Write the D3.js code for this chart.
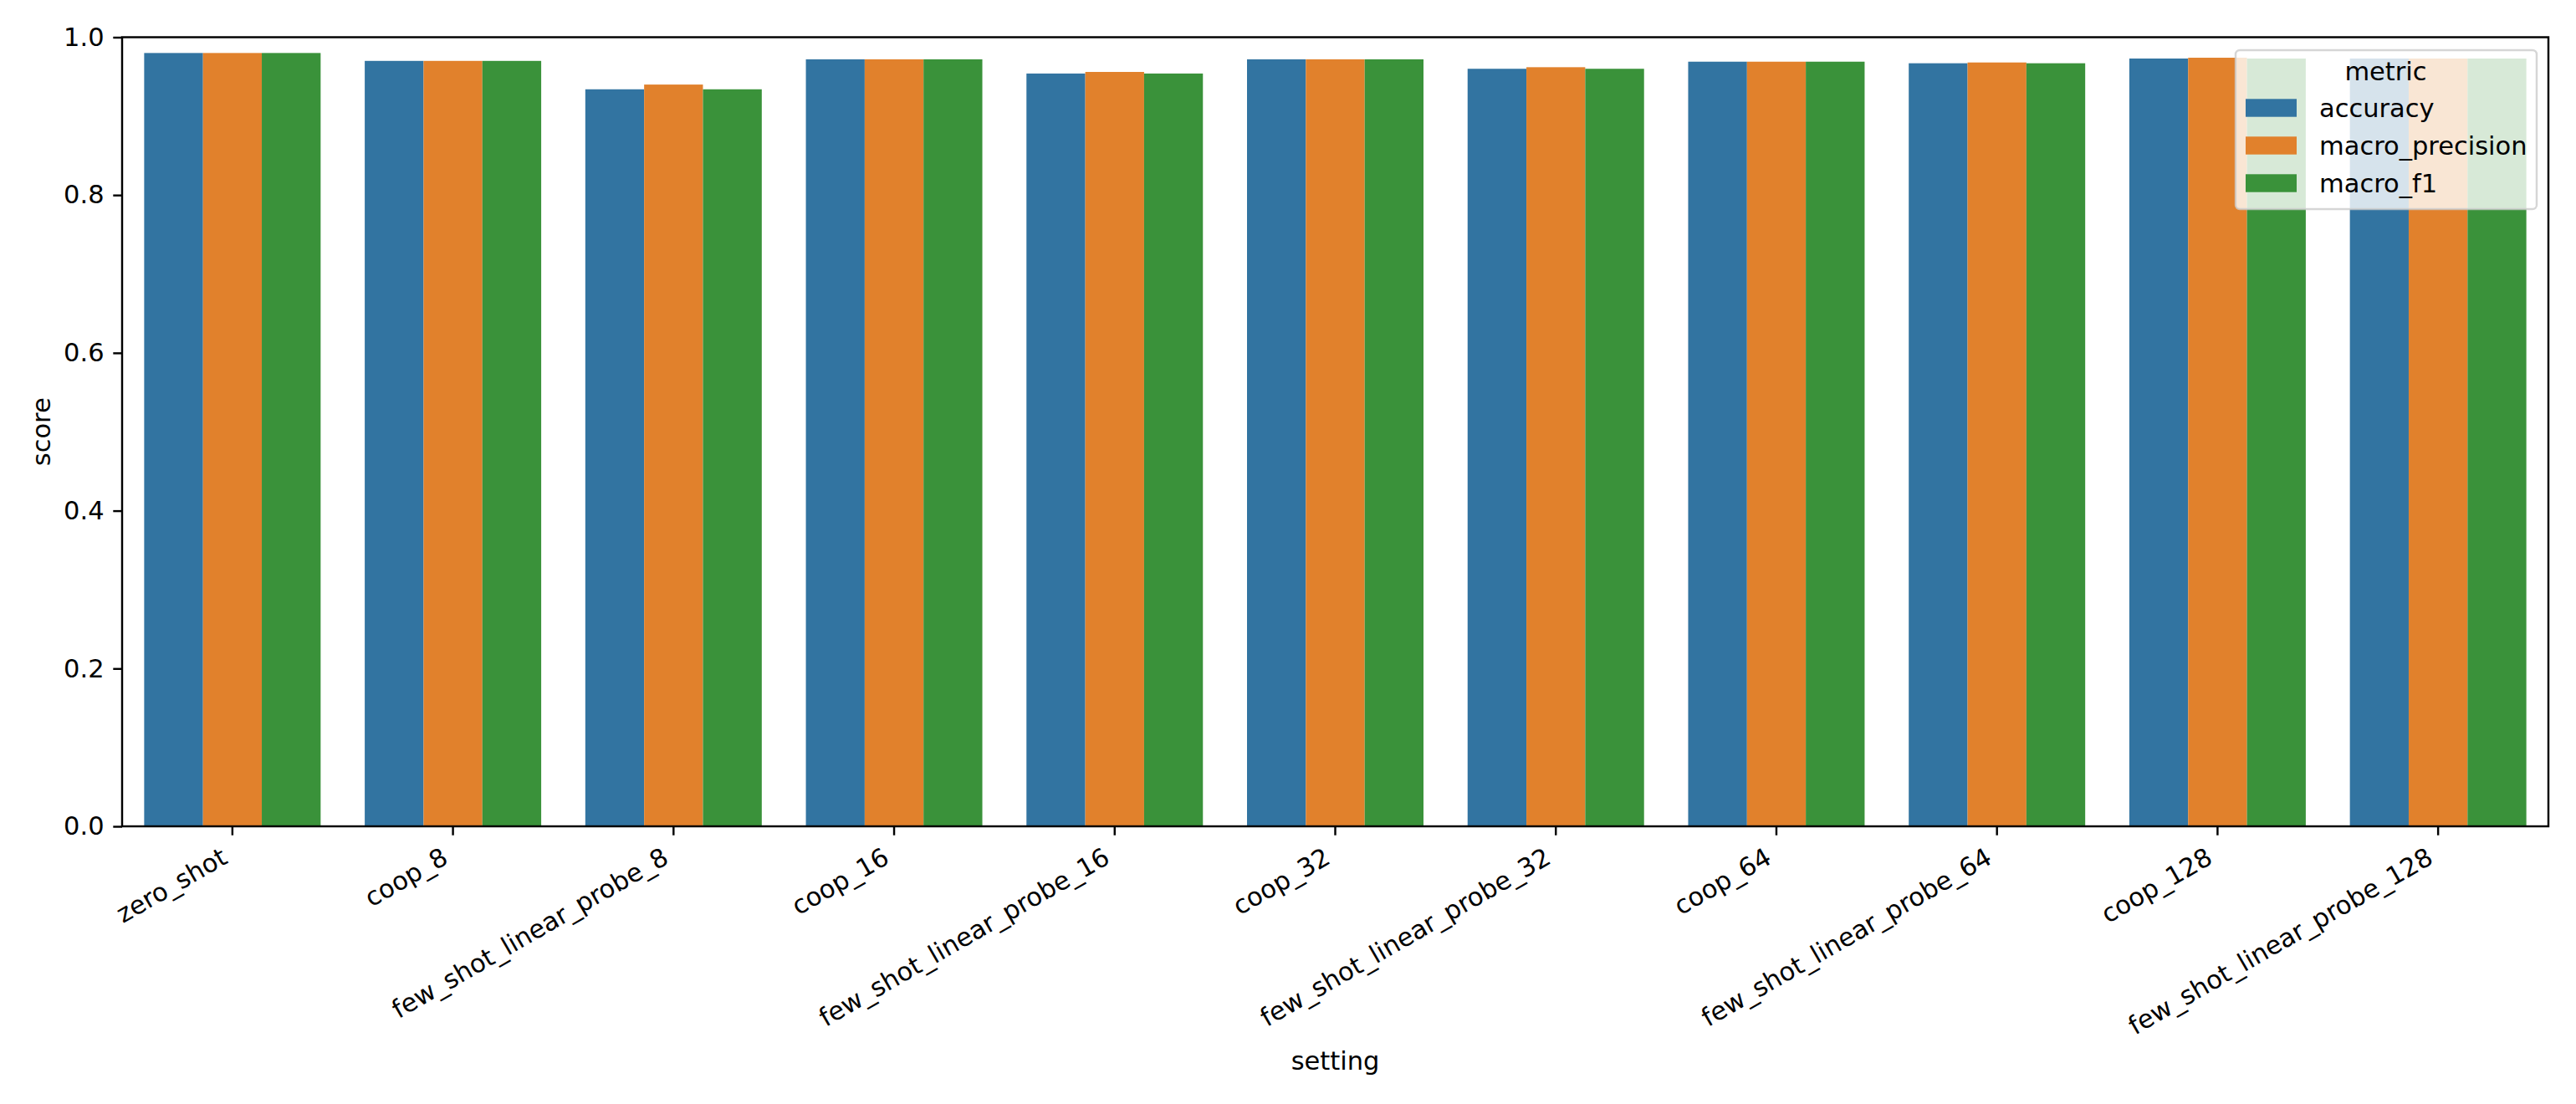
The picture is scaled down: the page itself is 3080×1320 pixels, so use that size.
<!DOCTYPE html>
<html>
<head>
<meta charset="utf-8">
<script src="https://cdn.jsdelivr.net/npm/d3@7"></script>
<style>
html, body { margin: 0; padding: 0; background: #fff; }
svg { display: block; }
text { font-family: "DejaVu Sans", sans-serif; }
</style>
</head>
<body>
<script>
const categories = ["zero_shot","coop_8","few_shot_linear_probe_8","coop_16","few_shot_linear_probe_16","coop_32","few_shot_linear_probe_32","coop_64","few_shot_linear_probe_64","coop_128","few_shot_linear_probe_128"];
const metrics = ["accuracy","macro_precision","macro_f1"];
const accuracy        = [0.980,0.970,0.934,0.972,0.954,0.972,0.960,0.969,0.967,0.973,0.973];
const macro_precision = [0.980,0.970,0.940,0.972,0.956,0.972,0.962,0.969,0.968,0.974,0.973];
const macro_f1        = [0.980,0.970,0.934,0.972,0.954,0.972,0.960,0.969,0.967,0.973,0.973];
const yTicks = [0.0,0.2,0.4,0.6,0.8,1.0];
const colors = ["#3274a1","#e1812c","#3a923a"];

const seriesValues = {accuracy, macro_precision, macro_f1};
const rows = [];
categories.forEach((c,i) => metrics.forEach(m => rows.push({cat:c, metric:m, value:seriesValues[m][i]})));

const W = 3080, H = 1320;
const L = 146, R = 3047, T = 44.5, B = 988;
const FS = 30.5, TICK = 10.7, PAD = 10.7, LW = 2.44;

const svg = d3.select("body").append("svg").attr("width", W).attr("height", H);
svg.append("rect").attr("width", W).attr("height", H).attr("fill", "#fff");

const x = d3.scaleBand().domain(categories).range([L, R]).paddingInner(0).paddingOuter(0);
const bw = x.bandwidth();
const xm = d3.scaleBand().domain(metrics).range([0.1*bw, 0.9*bw]).padding(0);
const y = d3.scaleLinear().domain([0, 1]).range([B, T]);
const color = d3.scaleOrdinal().domain(metrics).range(colors);

// bars
svg.append("g").selectAll("rect").data(rows).join("rect")
  .attr("x", d => x(d.cat) + xm(d.metric))
  .attr("width", xm.bandwidth())
  .attr("y", d => y(d.value))
  .attr("height", d => y(0) - y(d.value))
  .attr("fill", d => color(d.metric));

// y axis
const yAxis = svg.append("g").attr("transform", `translate(${L},0)`)
  .call(d3.axisLeft(y).tickValues(yTicks).tickFormat(d3.format(".1f")).tickSize(TICK).tickPadding(PAD));
yAxis.select(".domain").remove();
yAxis.selectAll(".tick line").attr("stroke", "#000").attr("stroke-width", LW);
yAxis.selectAll(".tick text").attr("font-size", FS).attr("font-family", "DejaVu Sans").attr("fill", "#000");

// x axis
const xAxis = svg.append("g").attr("transform", `translate(0,${B})`)
  .call(d3.axisBottom(x).tickSize(TICK).tickPadding(0));
xAxis.select(".domain").remove();
xAxis.selectAll(".tick line").attr("stroke", "#000").attr("stroke-width", LW);
xAxis.selectAll(".tick text")
  .attr("font-size", FS).attr("font-family", "DejaVu Sans").attr("fill", "#000")
  .attr("text-anchor", "end")
  .attr("dy", null)
  .attr("y", null)
  .attr("transform", `translate(-4,43) rotate(-30)`);

// spines
svg.append("rect").attr("x", L).attr("y", T).attr("width", R-L).attr("height", B-T)
  .attr("fill", "none").attr("stroke", "#000").attr("stroke-width", LW);

// axis labels
svg.append("text").attr("x", (L+R)/2).attr("y", 1268).attr("dy", "0.35em")
  .attr("text-anchor", "middle").attr("font-size", FS).text("setting");
svg.append("text").attr("transform", `translate(49,${(T+B)/2}) rotate(-90)`).attr("dy", "0.35em")
  .attr("text-anchor", "middle").attr("font-size", FS).text("score");

// legend
const lg = svg.append("g");
lg.append("rect").attr("x", 2673).attr("y", 60).attr("width", 360).attr("height", 190)
  .attr("rx", 5).attr("ry", 5)
  .attr("fill", "#fff").attr("fill-opacity", 0.8)
  .attr("stroke", "#cccccc").attr("stroke-opacity", 0.8).attr("stroke-width", LW);
lg.append("text").attr("x", 2852.5).attr("y", 95.5).attr("text-anchor", "middle")
  .attr("font-size", FS).text("metric");
metrics.forEach((m, i) => {
  const yy = 118.3 + i*45;
  lg.append("rect").attr("x", 2685).attr("y", yy).attr("width", 61).attr("height", 21.4).attr("fill", color(m));
  lg.append("text").attr("x", 2773).attr("y", yy + 21.5).attr("font-size", FS).text(m);
});
</script>
</body>
</html>
